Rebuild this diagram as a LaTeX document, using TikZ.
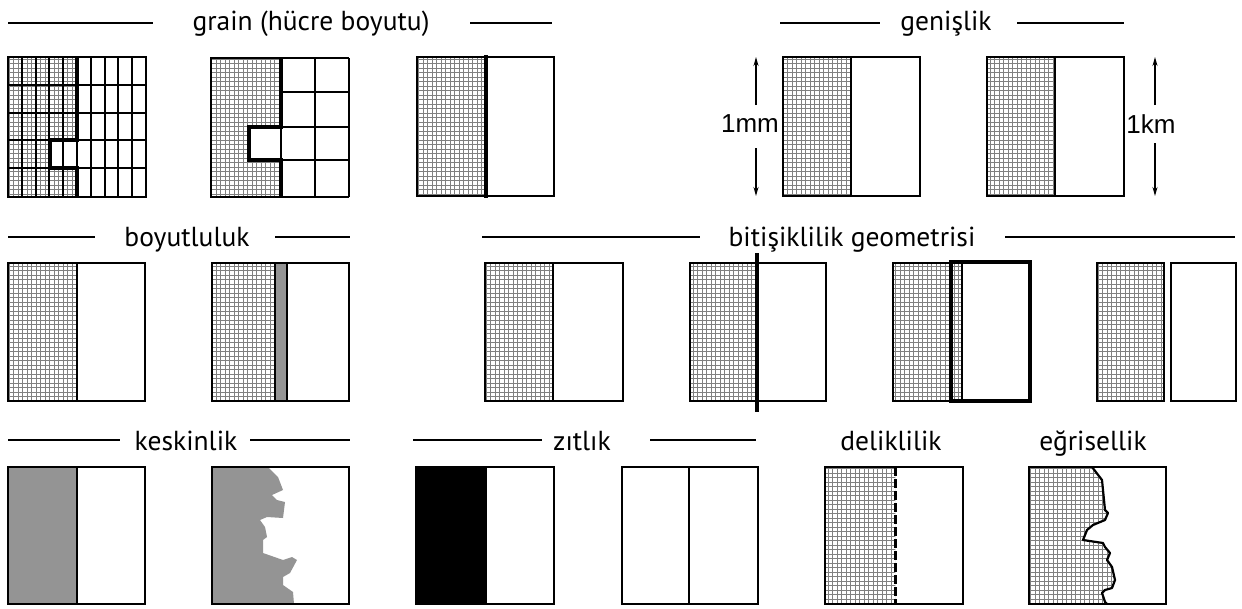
\documentclass[tikz,border=0pt]{standalone}
\usepackage{fontspec}
\setmainfont{PT Sans}
\newfontfamily\arialfont{Liberation Sans}
\usetikzlibrary{patterns,arrows.meta}
\pgfdeclarepatternformonly{meshgrid}{\pgfqpoint{-1pt}{-1pt}}{\pgfqpoint{5.5pt}{5.5pt}}{\pgfqpoint{4.5pt}{4.5pt}}{%
  \pgfsetlinewidth{0.8pt}%
  \pgfpathmoveto{\pgfqpoint{0pt}{0pt}}\pgfpathlineto{\pgfqpoint{0pt}{4.6pt}}%
  \pgfpathmoveto{\pgfqpoint{0pt}{0pt}}\pgfpathlineto{\pgfqpoint{4.6pt}{0pt}}%
  \pgfusepath{stroke}}
\begin{document}
\begin{tikzpicture}[x=1pt,y=-1pt,
  bx/.style={draw=black,line width=2.3pt},
  thin/.style={draw=black,line width=2pt},
  heavy/.style={draw=black,line width=3.8pt},
  hatch/.style={pattern=meshgrid,pattern color=black!50},
  grayf/.style={fill=black!42},
  rule/.style={draw=black,line width=1.8pt},
  title/.style={font=\fontsize{27.5}{30}\selectfont,anchor=base,inner sep=0pt},
  dim/.style={font=\arialfont\fontsize{26}{28}\selectfont,inner sep=0pt},
  arr/.style={-{Stealth[length=9pt,width=5pt]},line width=1.3pt}]
\useasboundingbox[fill=white] (0,0) rectangle (1242,608);

% ---------- titles ----------
\node[title] (tgrain) at (311,30) {grain (hücre boyutu)};
\draw[rule] (8,23) -- (153,23);
\draw[rule] (470,23) -- (552,23);
\node[title] (tgen) at (946,30) {genişlik};
\draw[rule] (780,23) -- (880,23);
\draw[rule] (1017,23) -- (1124,23);
\node[title] (tboy) at (187,246) {boyutluluk};
\draw[rule] (8,237) -- (95,237);
\draw[rule] (275,237) -- (350,237);
\node[title] (tbit) at (852,246) {bitişiklilik geometrisi};
\draw[rule] (482,237) -- (700,237);
\draw[rule] (1005,237) -- (1235,237);
\node[title] (tkes) at (186,450) {keskinlik};
\draw[rule] (8,440) -- (120,440);
\draw[rule] (250,440) -- (350,440);
\node[title] (tzit) at (582,450) {zıtlık};
\draw[rule] (413,440) -- (542,440);
\draw[rule] (650,440) -- (756,440);
\node[title] (tdel) at (891,450) {deliklilik};
\node[title] (tegr) at (1093,450) {eğrisellik};

% ---------- grain 1 : fine grid ----------
\fill[hatch] (8,57) rectangle (77,197);
\fill[white] (50,140) rectangle (77,168);
\foreach \x in {8,21.8,35.6,49.4,63.2,77,90.8,104.6,118.4,132.2,146}
  \draw[thin] (\x,57) -- (\x,197);
\foreach \y in {57,85,112.5,140,168,197}
  \draw[thin] (8,\y) -- (146,\y);
\draw[bx] (8,57) rectangle (146,197);
\draw[heavy] (77,57) -- (77,140) -- (50,140) -- (50,168) -- (77,168) -- (77,197);

% ---------- grain 2 : coarse grid ----------
\fill[hatch] (211,58) rectangle (281,197);
\fill[white] (249,127) rectangle (281,160);
\foreach \x in {281,315,349}
  \draw[thin] (\x,58) -- (\x,197);
\foreach \y in {58,92,127,160,197}
  \draw[thin] (281,\y) -- (349,\y);
\draw[bx] (281,58) -- (211,58) -- (211,197) -- (281,197);
\draw[heavy] (281,58) -- (281,127) -- (249,127) -- (249,160) -- (281,160) -- (281,197);

% ---------- grain 3 ----------
\fill[hatch] (417,57) rectangle (486,196);
\draw[bx] (417,57) rectangle (554,196);
\draw[heavy] (486,55) -- (486,198);

% ---------- genislik ----------
\fill[hatch] (783,57) rectangle (851,196);
\draw[bx] (783,57) rectangle (920,196);
\draw[bx] (851,57) -- (851,196);
\node[dim] (mm) at (750,124) {1mm};
\coordinate (mmt) at (756,57);
\coordinate (mmb) at (756,196);
\draw[arr] (756,105) -- (mmt);
\draw[arr] (756,148) -- (mmb);

\fill[hatch] (987,57) rectangle (1055,196);
\draw[bx] (987,57) rectangle (1124,196);
\draw[bx] (1055,57) -- (1055,196);
\node[dim] (km) at (1151,124) {1km};
\coordinate (kmt) at (1155,57);
\coordinate (kmb) at (1155,196);
\draw[arr] (1155,105) -- (kmt);
\draw[arr] (1155,143) -- (kmb);

% ---------- boyutluluk ----------
\fill[hatch] (8,263) rectangle (77,401);
\draw[bx] (8,263) rectangle (145,401);
\draw[bx] (77,263) -- (77,401);

\fill[hatch] (212,263) rectangle (275,401);
\fill[grayf] (275,263) rectangle (287,401);
\draw[bx] (212,263) rectangle (349,401);
\draw[bx] (275,263) -- (275,401);
\draw[bx] (287,263) -- (287,401);

% ---------- bitisiklilik geometrisi ----------
\fill[hatch] (485,263) rectangle (553,401);
\draw[bx] (485,263) rectangle (623,401);
\draw[bx] (553,263) -- (553,401);

\fill[hatch] (690,263) rectangle (757,401);
\draw[bx] (690,263) rectangle (826,401);
\draw[line width=4.4pt] (757,253) -- (757,412);

\fill[hatch] (893,263) rectangle (962,401);
\draw[bx] (951,263) -- (893,263) -- (893,401) -- (951,401);
\draw[bx] (962,263) -- (962,401);
\draw[heavy] (951,262) rectangle (1030,401);

\fill[hatch] (1097,263) rectangle (1164,401);
\draw[bx] (1097,263) rectangle (1164,401);
\draw[bx] (1171,263) rectangle (1236,401);

% ---------- keskinlik ----------
\fill[grayf] (8,467) rectangle (77,604);
\draw[bx] (8,467) rectangle (145,604);
\draw[bx] (77,467) -- (77,604);

\fill[grayf] (212,467) -- (268,467) -- (278,477) -- (283,490) -- (272,495) -- (277,500)
  -- (285,502) -- (283,518) -- (267,517) -- (260,520) -- (265,527) -- (267,537)
  -- (263,540) -- (263,553) -- (283,560) -- (292,557) -- (297,560) -- (290,573)
  -- (283,577) -- (283,585) -- (293,592) -- (294,604) -- (212,604) -- cycle;
\draw[bx] (212,467) rectangle (349,604);

% ---------- zitlik ----------
\fill[black] (416,467) rectangle (486,604);
\draw[bx] (416,467) rectangle (554,604);
\draw[bx] (486,467) -- (486,604);

\draw[bx] (622,467) rectangle (758,604);
\draw[bx] (689,467) -- (689,604);

% ---------- deliklilik ----------
\fill[hatch] (825,467) rectangle (895,604);
\draw[bx] (825,467) rectangle (963,604);
\draw[line width=3pt,dash pattern=on 9pt off 3pt] (895,467) -- (895,604);

% ---------- egrisellik ----------
\fill[hatch] (1029,467) -- (1092,467) -- (1102,480) -- (1105,510) -- (1108,513)
  -- (1105,520) -- (1093,525) -- (1087,530) -- (1083,540) -- (1103,543) -- (1105,547)
  -- (1110,553) -- (1107,560) -- (1112,567) -- (1115,580) -- (1112,588) -- (1105,590)
  -- (1102,593) -- (1105,602) -- (1107,604) -- (1029,604) -- cycle;
\draw[line width=2.2pt,line join=round] (1092,467) -- (1102,480) -- (1105,510) -- (1108,513)
  -- (1105,520) -- (1093,525) -- (1087,530) -- (1083,540) -- (1103,543) -- (1105,547)
  -- (1110,553) -- (1107,560) -- (1112,567) -- (1115,580) -- (1112,588) -- (1105,590)
  -- (1102,593) -- (1105,602) -- (1107,604);
\draw[bx] (1029,467) rectangle (1166,604);
\end{tikzpicture}
\end{document}
